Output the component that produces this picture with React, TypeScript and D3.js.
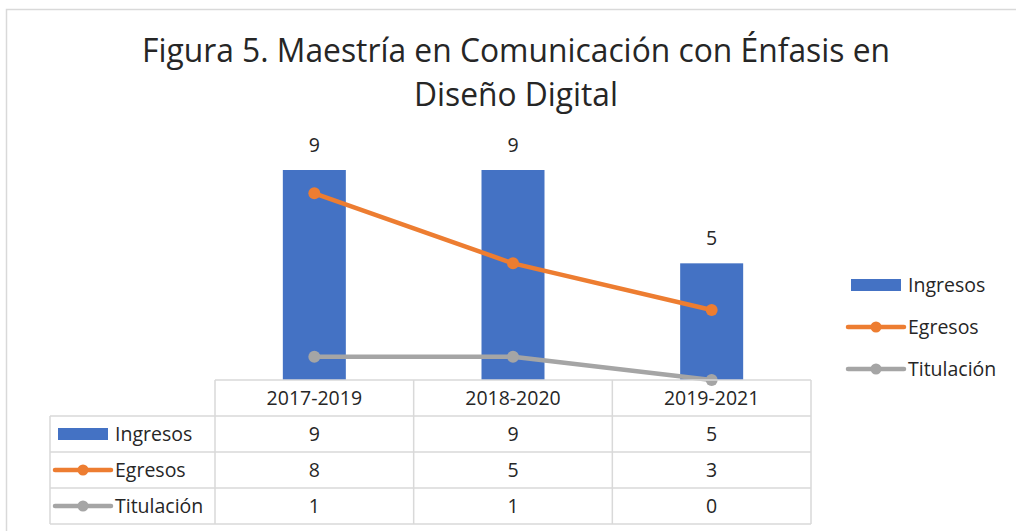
import React from 'react';
import * as d3 from 'd3';

const categories = ['2017-2019', '2018-2020', '2019-2021'];
const ingresos = [9, 9, 5];
const egresos = [8, 5, 3];
const titulacion = [1, 1, 0];
const seriesNames = ['Ingresos', 'Egresos', 'Titulación'];
const titleLines = ['Figura 5. Maestría en Comunicación con Énfasis en', 'Diseño Digital'];

const BLUE = '#4472C4';
const ORANGE = '#ED7D31';
const GRAY = '#A5A5A5';
const GRID = '#D9D9D9';
const TEXT = '#262626';
const FONT = "'Open Sans', 'Noto Sans', sans-serif";

const W = 1016;
const H = 531;

const x = d3.scaleBand().domain(categories).range([215, 811]).padding(0);
const y = d3.scaleLinear().domain([0, 9]).range([380, 170]);
const barW = 63;
const FS = 19.5;

const line = d3
  .line<number>()
  .x((_, i) => x(categories[i])! + x.bandwidth() / 2)
  .y(d => y(d));

const rowY = d3.scaleBand().domain(['head', ...seriesNames]).range([380, 524]);

function LegendKey({ name, cx, cy }: { name: string; cx: number; cy: number }) {
  if (name === 'Ingresos') {
    return <rect x={cx - 25} y={cy - 6} width={50} height={12} fill={BLUE} />;
  }
  const c = name === 'Egresos' ? ORANGE : GRAY;
  return (
    <g>
      <line x1={cx - 28} x2={cx + 28} y1={cy} y2={cy} stroke={c} strokeWidth={4.5} strokeLinecap="round" />
      <circle cx={cx} cy={cy} r={5.5} fill={c} />
    </g>
  );
}

export default function App() {
  const lineSeries = [
    { name: 'Egresos', data: egresos, color: ORANGE },
    { name: 'Titulación', data: titulacion, color: GRAY },
  ];
  const tableRows = [ingresos, egresos, titulacion];
  const legendY = d3.scalePoint().domain(seriesNames).range([285, 369]);

  return (
    <svg width={W} height={H} style={{ position: 'absolute', left: 0, top: 0 }} fontFamily={FONT}>
      <rect x={0} y={0} width={W} height={H} fill="#fff" />
      {/* chart border */}
      <path d={`M6.5,${H} V9.5 H${W}`} fill="none" stroke={GRID} strokeWidth={1.5} />

      {titleLines.map((t, i) => (
        <text
          key={t}
          x={516}
          y={62 + i * 44}
          textAnchor="middle"
          fontSize={32}
          fill={TEXT}
          textLength={i === 0 ? 748 : 204}
          lengthAdjust="spacingAndGlyphs"
        >
          {t}
        </text>
      ))}

      {/* bars */}
      {ingresos.map((v, i) => {
        const cx = x(categories[i])! + x.bandwidth() / 2;
        return (
          <g key={categories[i]}>
            <rect x={cx - barW / 2} y={y(v)} width={barW} height={y(0) - y(v)} fill={BLUE} />
            <text x={cx} y={y(v) - 18} textAnchor="middle" fontSize={FS} fill={TEXT}>
              {v}
            </text>
          </g>
        );
      })}

      {/* lines */}
      {lineSeries.map(s => (
        <g key={s.name}>
          <path d={line(s.data)!} fill="none" stroke={s.color} strokeWidth={4.5} strokeLinejoin="round" />
          {s.data.map((v, i) => (
            <circle key={i} cx={x(categories[i])! + x.bandwidth() / 2} cy={y(v)} r={6} fill={s.color} />
          ))}
        </g>
      ))}

      {/* data table */}
      <g stroke={GRID} strokeWidth={1.5} fill="none">
        <line x1={215} x2={811} y1={rowY('head')!} y2={rowY('head')!} />
        {seriesNames.map(n => (
          <line key={n} x1={50} x2={811} y1={rowY(n)!} y2={rowY(n)!} />
        ))}
        <line x1={50} x2={811} y1={524} y2={524} />
        <line x1={50} x2={50} y1={rowY('Ingresos')!} y2={524} />
        {categories.map(c => (
          <line key={c} x1={x(c)!} x2={x(c)!} y1={380} y2={524} />
        ))}
        <line x1={811} x2={811} y1={380} y2={524} />
      </g>
      {categories.map(c => (
        <text
          key={c}
          x={x(c)! + x.bandwidth() / 2}
          y={rowY('head')! + rowY.bandwidth() / 2 + 7}
          textAnchor="middle"
          fontSize={FS}
          fill={TEXT}
        >
          {c}
        </text>
      ))}
      {seriesNames.map((n, r) => {
        const cy = rowY(n)! + rowY.bandwidth() / 2;
        return (
          <g key={n}>
            <LegendKey name={n} cx={83} cy={cy} />
            <text x={115} y={cy + 7} fontSize={FS} fill={TEXT}>
              {n}
            </text>
            {tableRows[r].map((v, i) => (
              <text
                key={i}
                x={x(categories[i])! + x.bandwidth() / 2}
                y={cy + 7}
                textAnchor="middle"
                fontSize={FS}
                fill={TEXT}
              >
                {v}
              </text>
            ))}
          </g>
        );
      })}

      {/* legend */}
      {seriesNames.map(n => (
        <g key={n}>
          <LegendKey name={n} cx={876} cy={legendY(n)!} />
          <text x={908} y={legendY(n)! + 7} fontSize={FS} fill={TEXT}>
            {n}
          </text>
        </g>
      ))}
    </svg>
  );
}
